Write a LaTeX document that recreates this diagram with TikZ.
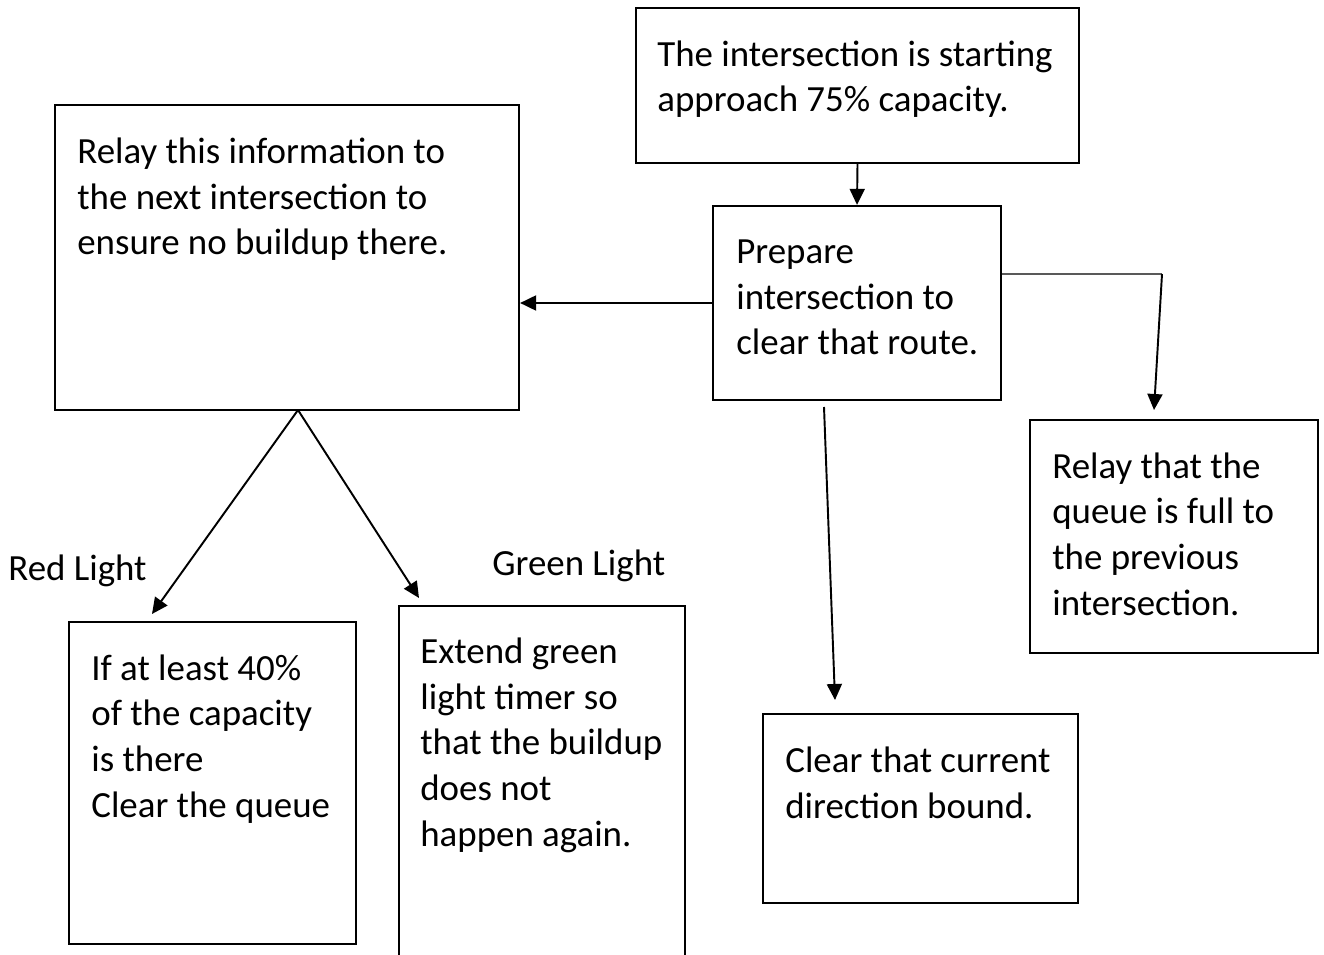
\documentclass[tikz,border=0pt]{standalone}
\usepackage{fontspec}
\setmainfont{Carlito}
\usetikzlibrary{arrows.meta,calc}

\tikzset{
  box/.style={draw, line width=1.3pt, inner sep=0pt},
  txt/.style={align=left, inner sep=0pt, anchor=base west, font=\fontsize{21}{25.9}\selectfont},
  arr/.style={-{Triangle[length=0.32cm,width=0.3cm]}, line width=1.1pt},
}

\begin{document}
\begin{tikzpicture}[x=0.02cm,y=-0.02cm]
\clip (0,0) rectangle (1324,955);
% boxes
\node[box, minimum width=8.86cm, minimum height=3.10cm] (start) at (857.5,85.5) {};
\node[box, minimum width=5.76cm, minimum height=3.88cm] (prep) at (857,303) {};
\node[box, minimum width=9.28cm, minimum height=6.10cm] (relayL) at (287,257.5) {};
\node[box, minimum width=5.76cm, minimum height=4.66cm] (relayR) at (1174,536.5) {};
\node[box, minimum width=6.30cm, minimum height=3.78cm] (clear) at (920.5,808.5) {};
\node[box, minimum width=5.74cm, minimum height=6.44cm] (red) at (212.5,783) {};
\node[box, minimum width=5.72cm, minimum height=7.68cm] (green) at (542,798) {};

% texts (placed by the baseline of their last line)
\node[txt] (startT) at (657,112) {The intersection is starting\\approach 75\% capacity.};
\node[txt] (prepT) at (736,355) {Prepare\\intersection to\\clear that route.};
\node[txt] (relayLT) at (77,255) {Relay this information to\\the next intersection to\\ensure no buildup there.};
\node[txt] (relayRT) at (1052,615) {Relay that the\\queue is full to\\the previous\\intersection.};
\node[txt] (clearT) at (785,818) {Clear that current\\direction bound.};
\node[txt] (redT) at (91,817) {If at least 40\%\\of the capacity\\is there\\Clear the queue};
\node[txt] (greenT) at (420,846) {Extend green\\light timer so\\that the buildup\\does not\\happen again.};
\node[txt] (redL) at (8,580) {Red Light};
\node[txt] (greenL) at (492,575) {Green Light};

% connectors
\coordinate (bend) at (1162,274);
\coordinate (relayRIn) at (1154,410);
\coordinate (prepOut) at (824,407);
\coordinate (clearIn) at (835,700);
\coordinate (split) at (298,410);
\coordinate (redIn) at (152,614);
\coordinate (greenIn) at (419,598);

\draw[arr] (start.south) -- (prep.north);
\draw[arr] (prep.west) -- (prep.west -| relayL.east);
\draw[line width=1.1pt, black!65] (prep.east |- bend) -- (bend);
\draw[arr] (bend) -- (relayRIn);
\draw[arr] (prepOut) -- (clearIn);
\draw[arr] (split) -- (redIn);
\draw[arr] (split) -- (greenIn);
\end{tikzpicture}
\end{document}
